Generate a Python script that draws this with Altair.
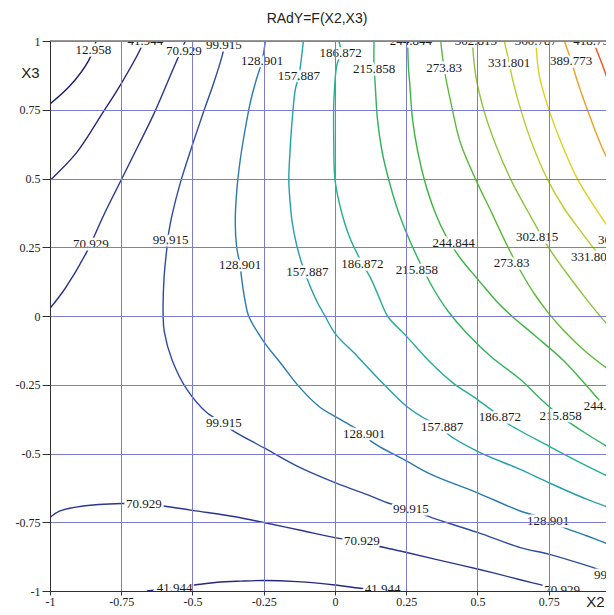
import altair as alt
import pandas as pd

# ---- contour levels and colours ----
levels = ["12.958", "41.944", "70.929", "99.915", "128.901", "157.887", "186.872",
          "215.858", "244.844", "273.83", "302.815", "331.801", "360.787", "389.773", "418.758"]
level_colors = ["#1c1c6c", "#26287e", "#2b3590", "#2d4ca2", "#2a7aac", "#22a0aa", "#24ae92",
                "#2eb25a", "#3eb43e", "#5cba3a", "#8cc43a", "#b6d02e", "#dcd21e", "#f0a020", "#ee5420"]

# ---- contour polylines (X2, X3) ----
c12_x = [-1.0, -0.93, -0.865, -0.838]
c12_y = [0.771, 0.837, 0.928, 1.0]

c41a_x = [-1.0, -0.906, -0.818, -0.748, -0.683, -0.671]
c41a_y = [0.493, 0.595, 0.734, 0.849, 0.97, 1.0]

c41b_x = [-0.66, -0.56, -0.495, -0.413, -0.33, -0.25, -0.133, 0.0, 0.088, 0.17, 0.2]
c41b_y = [-1.0, -0.988, -0.978, -0.968, -0.964, -0.962, -0.966, -0.978, -0.99, -0.998, -1.0]

c70a_x = [-1.0, -0.947, -0.871, -0.81, -0.748, -0.69, -0.636, -0.566, -0.525]
c70a_y = [0.028, 0.10, 0.233, 0.37, 0.499, 0.62, 0.734, 0.903, 1.0]

c70b_x = [-1.0, -0.965, -0.883, -0.748, -0.671, -0.601, -0.5, -0.35, -0.25, -0.121, 0.0,
          0.096, 0.173, 0.252, 0.35, 0.5, 0.65, 0.72, 0.8]
c70b_y = [-0.733, -0.709, -0.691, -0.682, -0.682, -0.691, -0.707, -0.73, -0.751, -0.779, -0.806,
          -0.822, -0.842, -0.86, -0.884, -0.92, -0.959, -0.977, -0.998]

c99_x = [-0.384, -0.396, -0.425, -0.46, -0.501, -0.542, -0.572, -0.583, -0.59, -0.60, -0.603,
         -0.599, -0.572, -0.519, -0.448, -0.39, -0.361, -0.25, -0.133, 0.0, 0.126, 0.184,
         0.266, 0.35, 0.5, 0.65, 0.75, 0.885, 0.98]
c99_y = [1.0, 0.946, 0.849, 0.746, 0.62, 0.487, 0.366, 0.306, 0.245, 0.136, 0.0,
         -0.057, -0.159, -0.268, -0.353, -0.389, -0.415, -0.479, -0.546, -0.606, -0.655, -0.679,
         -0.705, -0.737, -0.787, -0.842, -0.866, -0.908, -0.94]

c128_x = [-0.244, -0.256, -0.279, -0.297, -0.315, -0.332, -0.344, -0.35, -0.345, -0.333, -0.326,
          -0.315, -0.303, -0.25, -0.191, -0.127, -0.056, 0.02, 0.102, 0.126, 0.252, 0.337,
          0.5, 0.65, 0.75, 0.785, 0.885, 0.98]
c128_y = [1.0, 0.928, 0.849, 0.777, 0.68, 0.571, 0.463, 0.342, 0.25, 0.184, 0.124,
          0.052, 0.0, -0.093, -0.171, -0.256, -0.329, -0.377, -0.428, -0.455, -0.528, -0.576,
          -0.643, -0.709, -0.74, -0.761, -0.8, -0.838]

c157_x = [-0.111, -0.127, -0.139, -0.15, -0.158, -0.162, -0.158, -0.15, -0.135, -0.113, -0.088,
          -0.062, -0.035, 0.0, 0.079, 0.173, 0.252, 0.31, 0.376, 0.398, 0.5, 0.65, 0.75, 0.885, 0.98]
c157_y = [1.0, 0.871, 0.825, 0.716, 0.595, 0.496, 0.42, 0.34, 0.26, 0.18, 0.11,
          0.05, 0.0, -0.063, -0.147, -0.25, -0.329, -0.37, -0.405, -0.431, -0.492, -0.558, -0.606,
          -0.667, -0.703]

c186_x = [0.014, 0.02, 0.006, -0.004, -0.004, 0.0, 0.02, 0.049, 0.096, 0.126, 0.161, 0.184,
          0.252, 0.337, 0.415, 0.5, 0.58, 0.603, 0.75, 0.885, 0.98]
c186_y = [1.0, 0.958, 0.909, 0.777, 0.62, 0.496, 0.39, 0.293, 0.19, 0.136, 0.052, 0.0,
          -0.075, -0.171, -0.244, -0.304, -0.367, -0.389, -0.473, -0.546, -0.594]

c215_x = [0.137, 0.137, 0.14, 0.149, 0.165, 0.19, 0.222, 0.26, 0.3, 0.345, 0.395, 0.46, 0.55,
          0.65, 0.72, 0.79, 0.885, 0.98]
c215_y = [1.0, 0.897, 0.861, 0.716, 0.6, 0.49, 0.38, 0.28, 0.19, 0.1, 0.02, -0.06, -0.15,
          -0.23, -0.3, -0.363, -0.43, -0.49]

c244_x = [0.255, 0.258, 0.262, 0.272, 0.29, 0.315, 0.35, 0.39, 0.44, 0.5, 0.57, 0.62, 0.7, 0.8,
          0.88, 0.947, 0.98]
c244_y = [1.0, 0.9, 0.85, 0.716, 0.6, 0.49, 0.38, 0.29, 0.21, 0.135, 0.05, 0.0, -0.07, -0.16,
          -0.25, -0.327, -0.35]

c273_x = [0.371, 0.383, 0.41, 0.44, 0.494, 0.55, 0.6, 0.653, 0.7, 0.746, 0.8, 0.88, 0.98]
c273_y = [1.0, 0.9, 0.76, 0.63, 0.496, 0.375, 0.265, 0.16, 0.08, 0.015, -0.05, -0.13, -0.21]

c302_x = [0.482, 0.494, 0.523, 0.565, 0.617, 0.685, 0.752, 0.817, 0.887, 0.934, 0.98]
c302_y = [1.0, 0.873, 0.746, 0.62, 0.496, 0.365, 0.245, 0.15, 0.055, -0.005, -0.06]

c331_x = [0.594, 0.611, 0.623, 0.653, 0.694, 0.746, 0.805, 0.864, 0.92, 0.98]
c331_y = [1.0, 0.921, 0.861, 0.746, 0.62, 0.496, 0.39, 0.306, 0.23, 0.155]

c360_x = [0.705, 0.717, 0.752, 0.793, 0.852, 0.923, 0.98]
c360_y = [1.0, 0.873, 0.746, 0.632, 0.496, 0.378, 0.29]

c389_x = [0.805, 0.829, 0.852, 0.887, 0.934, 0.98]
c389_y = [1.0, 0.928, 0.849, 0.746, 0.62, 0.52]

c418_x = [0.905, 0.917, 0.952, 0.98]
c418_y = [1.0, 0.97, 0.873, 0.76]

# ---- contour labels ----
label_text = ["12.958", "41.944", "70.929", "99.915", "70.929", "99.915", "128.901", "157.887",
              "186.872", "215.858", "244.844", "273.83", "302.815", "331.801", "360.787", "389.773",
              "418.758", "128.901", "157.887", "186.872", "215.858", "244.844", "273.83", "302.815",
              "331.801", "360.787", "99.915", "128.901", "157.887", "186.872", "215.858", "244.844",
              "70.929", "99.915", "128.901", "70.929", "99.915", "41.944", "41.944", "70.929"]
label_x = [-0.848, -0.665, -0.53, -0.39, -0.857, -0.577, -0.256, -0.127,
           0.02, 0.137, 0.266, 0.383, 0.494, 0.611, 0.705, 0.829,
           0.91, -0.333, -0.097, 0.096, 0.287, 0.416, 0.62, 0.709,
           0.902, 0.997, -0.39, 0.102, 0.376, 0.579, 0.792, 0.947,
           -0.671, 0.266, 0.748, 0.094, 0.972, -0.563, 0.167, 0.797]
label_y = [0.966, 1.0, 0.964, 0.985, 0.263, 0.275, 0.928, 0.871,
           0.958, 0.897, 1.0, 0.903, 1.0, 0.921, 1.0, 0.928,
           1.0, 0.184, 0.161, 0.19, 0.167, 0.264, 0.191, 0.286,
           0.215, 0.276, -0.389, -0.428, -0.405, -0.367, -0.363, -0.327,
           -0.682, -0.703, -0.744, -0.818, -0.94, -0.99, -0.993, -0.995]

x_ticks = [-1, -0.75, -0.5, -0.25, 0, 0.25, 0.5, 0.75]
y_ticks = [-1, -0.75, -0.5, -0.25, 0, 0.25, 0.5, 0.75, 1]
x_domain = [-1, 0.951]
y_domain = [-1, 1]
border_y = [1.0]

segments = [
    ("12.958", c12_x, c12_y), ("41.944", c41a_x, c41a_y), ("41.944", c41b_x, c41b_y),
    ("70.929", c70a_x, c70a_y), ("70.929", c70b_x, c70b_y), ("99.915", c99_x, c99_y),
    ("128.901", c128_x, c128_y), ("157.887", c157_x, c157_y), ("186.872", c186_x, c186_y),
    ("215.858", c215_x, c215_y), ("244.844", c244_x, c244_y), ("273.83", c273_x, c273_y),
    ("302.815", c302_x, c302_y), ("331.801", c331_x, c331_y), ("360.787", c360_x, c360_y),
    ("389.773", c389_x, c389_y), ("418.758", c418_x, c418_y),
]
rows = []
for sid, (lev, xs, ys) in enumerate(segments):
    for i, (xv, yv) in enumerate(zip(xs, ys)):
        rows.append({"seg": sid, "level": lev, "ord": i, "x": xv, "y": yv})
lines_df = pd.DataFrame(rows)
labels_df = pd.DataFrame({"t": label_text, "x": label_x, "y": label_y})

GRID = "#7b7bcf"
AX = "#303030"

xscale = alt.Scale(domain=x_domain, nice=False, zero=False)
yscale = alt.Scale(domain=y_domain, nice=False, zero=False)

xaxis = alt.Axis(values=x_ticks, labelExpr="'' + datum.value", title="X2",
                 titleX=545, titleY=10, titleAngle=0, titleAlign="center", titleBaseline="middle",
                 titleFont="Liberation Sans", titleFontSize=15, titleFontWeight="normal",
                 titleColor="#222", labelFont="Liberation Serif", labelFontSize=12,
                 labelColor="#222", labelFlush=False, labelOverlap=False, tickSize=4,
                 labelPadding=1, tickColor=AX, domainColor=AX, gridColor=GRID, gridWidth=1,
                 gridOpacity=1, zindex=1)
yaxis = alt.Axis(values=y_ticks, labelExpr="'' + datum.value", title="X3",
                 titleX=-20, titleY=31, titleAngle=0, titleAlign="center", titleBaseline="middle",
                 titleFont="Liberation Sans", titleFontSize=15, titleFontWeight="normal",
                 titleColor="#222", labelFont="Liberation Serif", labelFontSize=12,
                 labelColor="#222", labelFlush=False, labelOverlap=False, tickSize=8,
                 labelPadding=2, tickColor=AX, domainColor=AX, gridColor=GRID, gridWidth=1,
                 gridOpacity=1, zindex=1)

lines = alt.Chart(lines_df).mark_line(clip=True, strokeWidth=1.4, interpolate="catmull-rom").encode(
    x=alt.X("x:Q", scale=xscale, axis=xaxis),
    y=alt.Y("y:Q", scale=yscale, axis=yaxis),
    color=alt.Color("level:N", scale=alt.Scale(domain=levels, range=level_colors), legend=None),
    detail="seg:N",
    order="ord:Q",
)

halo = alt.Chart(labels_df).mark_text(clip=True, font="Liberation Serif", fontSize=13,
                                      fill="white", stroke="white", strokeWidth=5).encode(
    x=alt.X("x:Q", scale=xscale), y=alt.Y("y:Q", scale=yscale), text="t:N")
txt = alt.Chart(labels_df).mark_text(clip=True, font="Liberation Serif", fontSize=13,
                                     color="#1a1a1a").encode(
    x=alt.X("x:Q", scale=xscale), y=alt.Y("y:Q", scale=yscale), text="t:N")

border = alt.Chart(pd.DataFrame({"y": border_y})).mark_rule(color=AX, strokeWidth=1).encode(
    y=alt.Y("y:Q", scale=yscale))

chart = alt.layer(lines, halo, txt, border).properties(
    width=556, height=550,
    title=alt.TitleParams("RAdY=F(X2,X3)", font="Liberation Sans", fontSize=14,
                          fontWeight="normal", color="#222", anchor="middle", dx=-11, offset=9),
    autosize=alt.AutoSizeParams(type="none"),
    padding={"left": 42, "top": 33, "right": 0, "bottom": 16},
).configure_view(stroke=None)

chart.save("out.html", embed_options={"renderer": "svg", "actions": False})
